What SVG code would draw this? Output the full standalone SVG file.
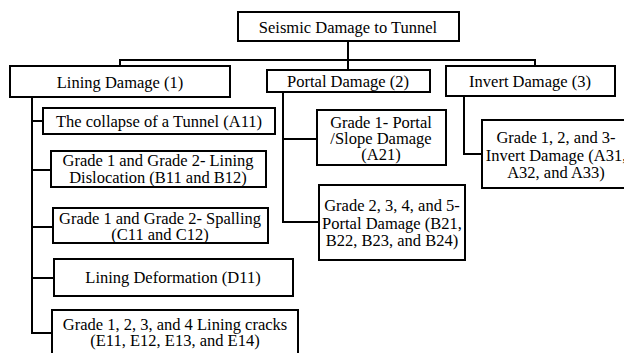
<svg xmlns="http://www.w3.org/2000/svg" width="624" height="353" viewBox="0 0 624 353">
<style>
.b{fill:#fff;stroke:#000;stroke-width:2}
.c{fill:none;stroke:#000;stroke-width:2}
.t{font-family:"Liberation Serif",serif;font-size:16.5px;fill:#000;text-anchor:middle}
</style>
<rect width="624" height="353" fill="#fff"/>
<g id="connectors">
<polyline class="c" points="348,41 348,60"/>
<polyline class="c" points="120,66 120,60 535,60 535,66"/>
<polyline class="c" points="348,60 348,70"/>
<polyline class="c" points="32,97 32,333 52,333"/>
<line class="c" x1="32" y1="121" x2="43" y2="121"/>
<line class="c" x1="32" y1="170" x2="51" y2="170"/>
<line class="c" x1="32" y1="227" x2="53" y2="227"/>
<line class="c" x1="32" y1="278" x2="54" y2="278"/>
<polyline class="c" points="283,92 283,222 319,222"/>
<line class="c" x1="283" y1="139" x2="317" y2="139"/>
<polyline class="c" points="464,96 464,154 482,154"/>
</g>
<g id="root"><rect class="b" x="238" y="12" width="221" height="29"/><text class="t" x="348" y="33">Seismic Damage to Tunnel</text></g>
<g id="lining"><rect class="b" x="10" y="66" width="220" height="31"/><text class="t" x="120" y="88">Lining Damage (1)</text></g>
<g id="portal"><rect class="b" x="267" y="70" width="163" height="22"/><text class="t" x="348" y="87">Portal Damage (2)</text></g>
<g id="invert"><rect class="b" x="446" y="66" width="169" height="30"/><text class="t" x="530" y="87">Invert Damage (3)</text></g>
<g id="a11"><rect class="b" x="43" y="108" width="232" height="26"/><text class="t" x="159" y="127">The collapse of a Tunnel (A11)</text></g>
<g id="b11"><rect class="b" x="51" y="151" width="215" height="36"/><text class="t" x="158" y="166">Grade 1 and Grade 2- Lining</text><text class="t" x="158" y="183">Dislocation (B11 and B12)</text></g>
<g id="c11"><rect class="b" x="53" y="208" width="215" height="35"/><text class="t" x="160" y="224">Grade 1 and Grade 2- Spalling</text><text class="t" x="160" y="240">(C11 and C12)</text></g>
<g id="d11"><rect class="b" x="54" y="259" width="239" height="37"/><text class="t" x="173" y="283">Lining Deformation (D11)</text></g>
<g id="e11"><rect class="b" x="52" y="310" width="246" height="50"/><text class="t" x="175" y="330">Grade 1, 2, 3, and 4 Lining cracks</text><text class="t" x="175" y="346">(E11, E12, E13, and E14)</text></g>
<g id="a21"><rect class="b" x="317" y="110" width="129" height="55"/><text class="t" x="381" y="128">Grade 1- Portal</text><text class="t" x="381" y="144">/Slope Damage</text><text class="t" x="381" y="160">(A21)</text></g>
<g id="b21"><rect class="b" x="319" y="185" width="146" height="75"/><text class="t" x="392" y="211">Grade 2, 3, 4, and 5-</text><text class="t" x="392" y="229">Portal Damage (B21,</text><text class="t" x="392" y="246">B22, B23, and B24)</text></g>
<g id="a31"><rect class="b" x="482" y="120" width="150" height="68"/><text class="t" x="556" y="143">Grade 1, 2, and 3-</text><text class="t" x="556" y="161">Invert Damage (A31,</text><text class="t" x="556" y="178">A32, and A33)</text></g>
</svg>
